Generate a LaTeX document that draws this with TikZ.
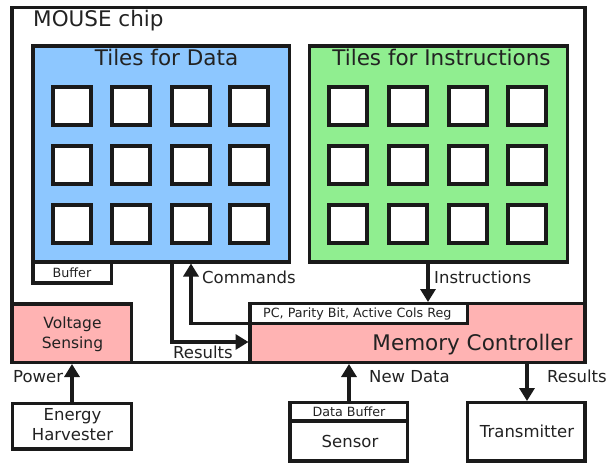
\documentclass[tikz,border=0pt]{standalone}
\usepackage{fontspec}
\setmainfont{DejaVu Sans}
\usetikzlibrary{arrows.meta}

\definecolor{ink}{RGB}{26,26,26}
\definecolor{txt}{RGB}{34,34,34}
\definecolor{datablue}{RGB}{141,199,255}
\definecolor{instgreen}{RGB}{144,238,144}
\definecolor{ctrlpink}{RGB}{255,179,179}

\tikzset{
  box/.style={draw=ink, line width=3.2pt, inner sep=0pt, outer sep=0pt, anchor=north west},
  tile/.style={draw=ink, fill=white, line width=3.8pt, minimum width=38pt,
               minimum height=38pt, inner sep=0pt, outer sep=0pt, anchor=north west},
  arr/.style={draw=ink, line width=3.2pt, -{Triangle[length=13pt,width=15pt]}, shorten >=1.5pt},
  lbl/.style={text=txt, inner sep=0pt, font=\fontsize{16.5}{19}\selectfont},
  vlbl/.style={text=txt, inner sep=0pt, font=\fontsize{15.5}{18}\selectfont},
  big/.style={text=txt, inner sep=0pt, font=\fontsize{21.5}{24}\selectfont},
  small/.style={text=txt, inner sep=0pt, font=\fontsize{12.7}{15}\selectfont},
}

\begin{document}
\begin{tikzpicture}[x=1pt, y=-1pt]
  \fill[white] (0,0) rectangle (608,464);
  \useasboundingbox (0,0) rectangle (608,464);

  % chip outline
  \node[box, fill=white, minimum width=573pt, minimum height=355pt] (chip) at (12,7.5) {};
  \node[big, anchor=base west] (chiplbl) at (33,26.5) {MOUSE chip};

  % tile arrays
  \node[box, fill=datablue, minimum width=256.5pt, minimum height=216pt] (data) at (33,46) {};
  \node[big, anchor=base] (datalbl) at (166.5,65) {Tiles for Data};
  \node[box, fill=instgreen, minimum width=258pt, minimum height=216pt] (instr) at (309.5,46) {};
  \node[big, anchor=base] (instrlbl) at (441.5,65) {Tiles for Instructions};

  \foreach \r/\y in {1/87,2/146,3/205} {
    \foreach \c/\x in {1/53,2/112,3/172,4/230}
      \node[tile] (dt-\r-\c) at (\x,\y) {};
    \foreach \c/\x in {1/329,2/389,3/449,4/508}
      \node[tile] (it-\r-\c) at (\x,\y) {};
  }

  % buffer under the data tiles
  \node[box, fill=white, minimum width=78.5pt, minimum height=21pt] (buf) at (33,262) {};
  \node[small, anchor=base] (buflbl) at (72,277) {Buffer};

  % voltage sensing and memory controller
  \node[box, fill=ctrlpink, minimum width=119.5pt, minimum height=58.5pt] (vs) at (12,304) {};
  \node[vlbl, anchor=base] (vslbl1) at (72.5,328) {Voltage};
  \node[vlbl, anchor=base] (vslbl2) at (72.5,348) {Sensing};

  \node[box, fill=ctrlpink, minimum width=335pt, minimum height=59pt] (mc) at (250,303.5) {};
  \node[big, anchor=base] (mclbl) at (472.5,350) {Memory Controller};
  \node[box, fill=white, minimum width=217.5pt, minimum height=20pt] (pc) at (250,303.5) {};
  \node[small, anchor=base west] (pclbl) at (263,317) {PC, Parity Bit, Active Cols Reg};

  % external blocks
  \node[box, fill=white, minimum width=119pt, minimum height=45.5pt] (eh) at (12.5,403.5) {};
  \node[lbl, anchor=base] (ehlbl1) at (72.5,420) {Energy};
  \node[lbl, anchor=base] (ehlbl2) at (72.5,440) {Harvester};

  \node[box, fill=white, minimum width=117.5pt, minimum height=18.5pt] (dbuf) at (290,402.5) {};
  \node[small, anchor=base] (dbuflbl) at (349,416) {Data Buffer};
  \node[box, fill=white, minimum width=117.5pt, minimum height=40pt] (sensor) at (290,421) {};
  \node[lbl, anchor=base] (sensorlbl) at (350,447) {Sensor};

  \node[box, fill=white, minimum width=117.5pt, minimum height=58.5pt] (tx) at (467.5,402.5) {};
  \node[lbl, anchor=base] (txlbl) at (527,437) {Transmitter};

  % routing points
  \coordinate (cmdx) at (191,0);
  \coordinate (resx) at (172,0);
  \coordinate (resy) at (0,342);
  \coordinate (instx) at (428,0);
  \coordinate (newx) at (349,0);
  \coordinate (outx) at (527,0);

  % connectors
  \draw[arr] (pc.south west) -| (data.south -| cmdx);
  \node[lbl, anchor=base west] (cmdlbl) at (202,283) {Commands};

  \draw[arr] (data.south -| resx) |- (mc.west |- resy);
  \node[lbl, anchor=base west] (reslbl) at (173,358) {Results};

  \draw[arr] (instr.south -| instx) -- (pc.north -| instx);
  \node[lbl, anchor=base west] (instlbl) at (434,283) {Instructions};

  \draw[arr] (eh.north) -- (vs.south -| eh.north);
  \node[lbl, anchor=base west] (powlbl) at (13,382) {Power};

  \draw[arr] (dbuf.north -| newx) -- (mc.south -| newx);
  \node[lbl, anchor=base west] (newlbl) at (369,382) {New Data};

  \draw[arr] (mc.south -| outx) -- (tx.north -| outx);
  \node[lbl, anchor=base west] (outlbl) at (547,382) {Results};
\end{tikzpicture}
\end{document}
